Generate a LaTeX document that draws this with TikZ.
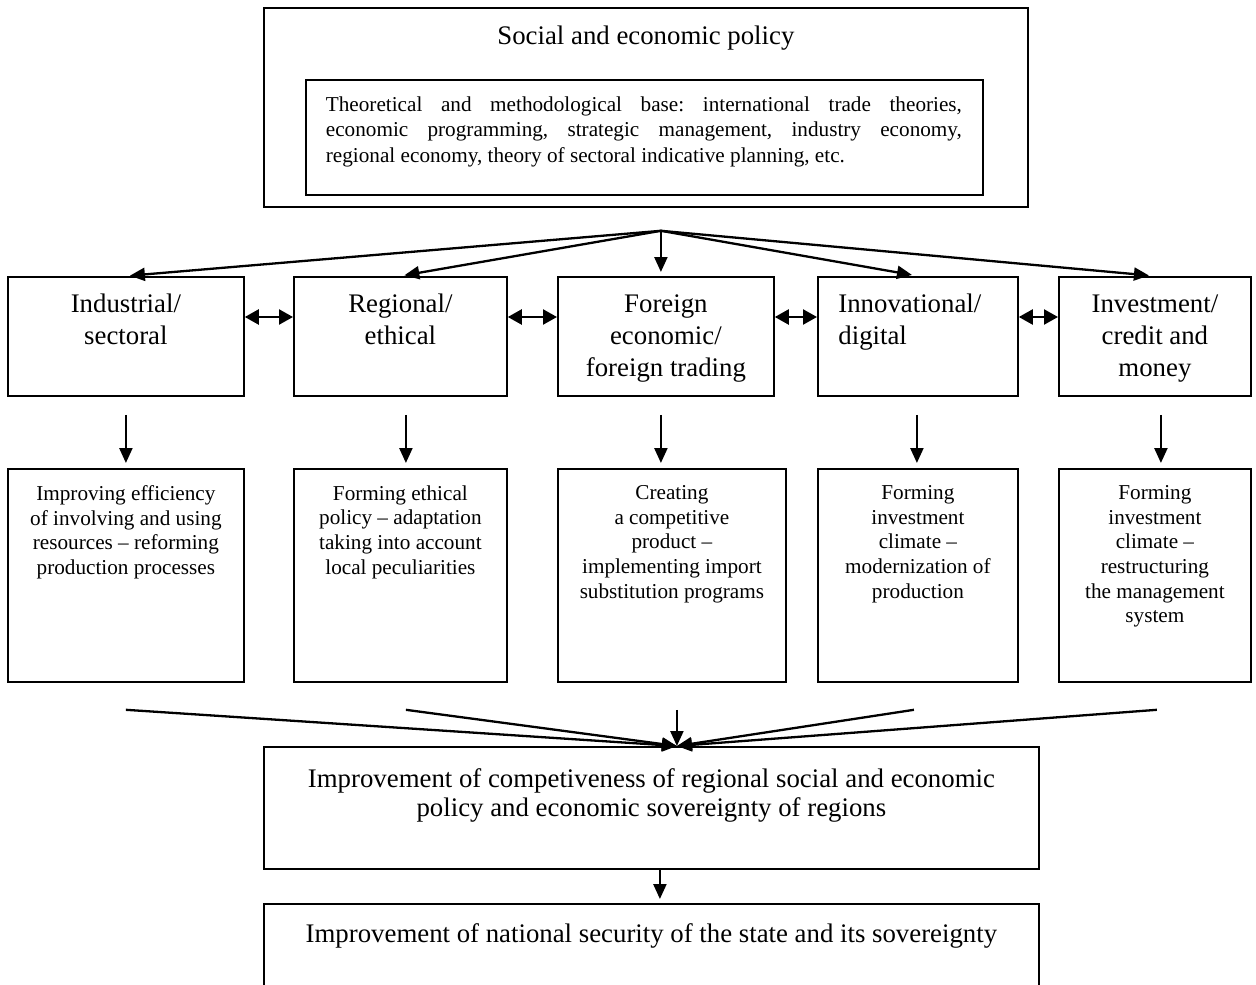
\documentclass[tikz,border=0pt]{standalone}
\usepackage{fontspec}
\setmainfont{Liberation Serif}
\usetikzlibrary{arrows.meta,positioning}
\frenchspacing

\begin{document}
\begin{tikzpicture}[x=0.5pt,y=-0.5pt,
		every node/.style={inner sep=0pt},
		box/.style={draw,line width=0.9pt,anchor=north west},
		big/.style={font=\fontsize{13.4}{16}\selectfont,align=center},
		small/.style={font=\fontsize{10.6}{12.35}\selectfont,align=center},
		arr/.style={line width=1.15pt,-{Triangle[length=7.5pt,width=6.5pt]}},
		both/.style={line width=1.15pt,{Triangle[length=7pt,width=7.5pt]}-{Triangle[length=7pt,width=7.5pt]}}
]
\useasboundingbox (0,0) rectangle (1256,984);

% policy and its base
\node[box,minimum width=382pt,minimum height=99.5pt] (policy) at (263,7) {};
\node[big,below=9.5pt of policy.north] (policyname) {Social and economic policy};
\node[box,minimum width=338.5pt,minimum height=57.5pt] (base) at (305,79) {};
\node[small,font=\fontsize{10.6}{12.75}\selectfont,align=justify,text width=318pt,anchor=north west]
	(basetext) at ([xshift=10.25pt,yshift=-8.5pt]base.north west)
	{Theoretical and methodological base: international trade theories,\linebreak
	economic programming, strategic management, industry economy,\linebreak
	regional economy, theory of sectoral indicative planning, etc.};

% directions
\node[box,minimum width=118pt,minimum height=59.5pt] (ind) at (7,276) {};
\node[box,minimum width=106.5pt,minimum height=59.5pt] (reg) at (293,276) {};
\node[box,minimum width=108pt,minimum height=59.5pt] (fore) at (557,276) {};
\node[box,minimum width=100pt,minimum height=59.5pt] (inno) at (817,276) {};
\node[box,minimum width=96pt,minimum height=59.5pt] (inv) at (1058,276) {};

\node[big,below=9pt of ind.north] (indname) {Industrial/\\sectoral};
\node[big,below=9pt of reg.north] (regname) {Regional/\\ethical};
\node[big,below=9pt of fore.north] (forename) {Foreign\\economic/\\foreign trading};
\node[big,align=left,anchor=north west] (innoname) at ([xshift=10.5pt,yshift=-9pt]inno.north west) {Innovational/\\digital};
\node[big,below=9pt of inv.north] (invname) {Investment/\\credit and\\money};

% results
\node[box,minimum width=118pt,minimum height=106.5pt] (indres) at (7,468) {};
\node[box,minimum width=106.5pt,minimum height=106.5pt] (regres) at (293,468) {};
\node[box,minimum width=114pt,minimum height=106.5pt] (foreres) at (557,468) {};
\node[box,minimum width=100pt,minimum height=106.5pt] (innores) at (817,468) {};
\node[box,minimum width=96pt,minimum height=106.5pt] (invres) at (1058,468) {};

\node[small,below=8.5pt of indres.north] (indrestext) {Improving efficiency\\of involving and using\\resources – reforming\\production processes};
\node[small,below=8.5pt of regres.north] (regrestext) {Forming ethical\\policy – adaptation\\taking into account\\local peculiarities};
\node[small,below=8.5pt of foreres.north] (forerestext) {Creating\\a competitive\\product –\\implementing import\\substitution programs};
\node[small,below=8.5pt of innores.north] (innorestext) {Forming\\investment\\climate –\\modernization of\\production};
\node[small,below=8.5pt of invres.north] (invrestext) {Forming\\investment\\climate –\\restructuring\\the management\\system};

% outcome
\node[box,minimum width=387.5pt,minimum height=61pt] (compet) at (263,746) {};
\node[big,font=\fontsize{13.4}{14.5}\selectfont,below=11pt of compet.north] (competname)
	{Improvement of competiveness of regional social and economic\\policy and economic sovereignty of regions};
\node[box,minimum width=387.5pt,minimum height=50pt] (nat) at (263,903) {};
\node[big,below=10pt of nat.north] (natname) {Improvement of national security of the state and its sovereignty};

% arrows
\coordinate (fan) at ([xshift=7.5pt,yshift=-11.5pt]policy.south);
\draw[arr,shorten >=2pt] (fan) -- (ind.north);
\draw[arr,shorten >=2pt] (fan) -- (reg.north);
\draw[arr,shorten >=2pt] (fan) -- (fan |- fore.north);
\draw[arr,shorten >=3pt] (fan) -- (inno.north);
\draw[arr,shorten >=3pt] (fan) -- (inv.north);

\foreach \a/\b in {ind/reg,reg/fore,fore/inno,inno/inv}
	\draw[both] ([yshift=-20.5pt]\a.north east) -- ([yshift=-20.5pt]\b.north west);

\foreach \a/\b/\s in {ind/indres/0pt,reg/regres/2.75pt,fore/foreres/-2.5pt,inno/innores/-0.5pt,inv/invres/3pt}
	\draw[arr,shorten <=9pt,shorten >=2.5pt] ([xshift=\s]\a.south) -- ([xshift=\s]\a.south |- \b.north);

\coordinate (join) at ([xshift=12.75pt]compet.north);
\coordinate (mid) at ([yshift=-13.5pt]join |- foreres.south);
\foreach \r/\s in {indres/0pt,regres/2.75pt,innores/-2pt,invres/1pt}
	\draw[arr] ([xshift=\s,yshift=-13.5pt]\r.south) -- (join);
\draw[arr] (mid) -- (join);

\draw[arr,shorten >=2pt] ([xshift=4.25pt]compet.south) -- ([xshift=4.25pt]compet.south |- nat.north);
\end{tikzpicture}
\end{document}
